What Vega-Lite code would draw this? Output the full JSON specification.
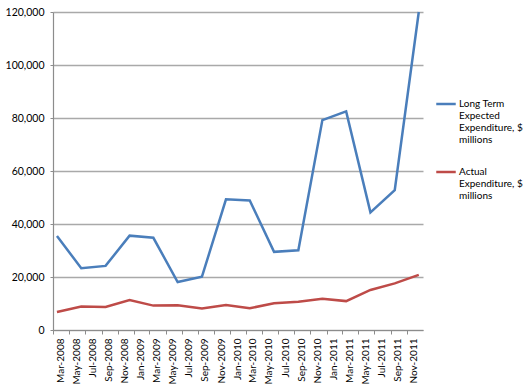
{
  "$schema": "https://vega.github.io/schema/vega-lite/v6.json",
  "width": 370,
  "height": 318,
  "autosize": {"type": "none"},
  "padding": {"left": 53, "top": 12, "right": 103, "bottom": 61},
  "background": "white",
  "config": {"view": {"stroke": null}, "font": "Lato"},
  "data": {
    "values": [
      {"date": "2008-03-16", "series": "Long Term Expected Expenditure, $ millions", "value": 35500},
      {"date": "2008-06-16", "series": "Long Term Expected Expenditure, $ millions", "value": 23300},
      {"date": "2008-09-16", "series": "Long Term Expected Expenditure, $ millions", "value": 24200},
      {"date": "2008-12-16", "series": "Long Term Expected Expenditure, $ millions", "value": 35600},
      {"date": "2009-03-16", "series": "Long Term Expected Expenditure, $ millions", "value": 34800},
      {"date": "2009-06-16", "series": "Long Term Expected Expenditure, $ millions", "value": 18100},
      {"date": "2009-09-16", "series": "Long Term Expected Expenditure, $ millions", "value": 20100},
      {"date": "2009-12-16", "series": "Long Term Expected Expenditure, $ millions", "value": 49300},
      {"date": "2010-03-16", "series": "Long Term Expected Expenditure, $ millions", "value": 48900},
      {"date": "2010-06-16", "series": "Long Term Expected Expenditure, $ millions", "value": 29500},
      {"date": "2010-09-16", "series": "Long Term Expected Expenditure, $ millions", "value": 30100},
      {"date": "2010-12-16", "series": "Long Term Expected Expenditure, $ millions", "value": 79200},
      {"date": "2011-03-16", "series": "Long Term Expected Expenditure, $ millions", "value": 82500},
      {"date": "2011-06-16", "series": "Long Term Expected Expenditure, $ millions", "value": 44400},
      {"date": "2011-09-16", "series": "Long Term Expected Expenditure, $ millions", "value": 52800},
      {"date": "2011-12-16", "series": "Long Term Expected Expenditure, $ millions", "value": 120000},
      {"date": "2008-03-16", "series": "Actual Expenditure, $ millions", "value": 6800},
      {"date": "2008-06-16", "series": "Actual Expenditure, $ millions", "value": 8900},
      {"date": "2008-09-16", "series": "Actual Expenditure, $ millions", "value": 8700},
      {"date": "2008-12-16", "series": "Actual Expenditure, $ millions", "value": 11300},
      {"date": "2009-03-16", "series": "Actual Expenditure, $ millions", "value": 9200},
      {"date": "2009-06-16", "series": "Actual Expenditure, $ millions", "value": 9300},
      {"date": "2009-09-16", "series": "Actual Expenditure, $ millions", "value": 8100},
      {"date": "2009-12-16", "series": "Actual Expenditure, $ millions", "value": 9400},
      {"date": "2010-03-16", "series": "Actual Expenditure, $ millions", "value": 8200},
      {"date": "2010-06-16", "series": "Actual Expenditure, $ millions", "value": 10100},
      {"date": "2010-09-16", "series": "Actual Expenditure, $ millions", "value": 10700},
      {"date": "2010-12-16", "series": "Actual Expenditure, $ millions", "value": 11800},
      {"date": "2011-03-16", "series": "Actual Expenditure, $ millions", "value": 10900},
      {"date": "2011-06-16", "series": "Actual Expenditure, $ millions", "value": 15100},
      {"date": "2011-09-16", "series": "Actual Expenditure, $ millions", "value": 17600},
      {"date": "2011-12-16", "series": "Actual Expenditure, $ millions", "value": 20800}
    ]
  },
  "mark": {"type": "line", "strokeWidth": 2.5},
  "encoding": {
    "x": {
      "field": "date",
      "type": "temporal",
      "title": null,
      "scale": {
        "type": "utc",
        "domain": [
          {"year": 2008, "month": 3, "date": 1, "utc": true},
          {"year": 2012, "month": 1, "date": 1, "utc": true}
        ]
      },
      "axis": {
        "values": [
          {"year": 2008, "month": 3, "date": 1, "utc": true},
          {"year": 2008, "month": 5, "date": 1, "utc": true},
          {"year": 2008, "month": 7, "date": 1, "utc": true},
          {"year": 2008, "month": 9, "date": 1, "utc": true},
          {"year": 2008, "month": 11, "date": 1, "utc": true},
          {"year": 2009, "month": 1, "date": 1, "utc": true},
          {"year": 2009, "month": 3, "date": 1, "utc": true},
          {"year": 2009, "month": 5, "date": 1, "utc": true},
          {"year": 2009, "month": 7, "date": 1, "utc": true},
          {"year": 2009, "month": 9, "date": 1, "utc": true},
          {"year": 2009, "month": 11, "date": 1, "utc": true},
          {"year": 2010, "month": 1, "date": 1, "utc": true},
          {"year": 2010, "month": 3, "date": 1, "utc": true},
          {"year": 2010, "month": 5, "date": 1, "utc": true},
          {"year": 2010, "month": 7, "date": 1, "utc": true},
          {"year": 2010, "month": 9, "date": 1, "utc": true},
          {"year": 2010, "month": 11, "date": 1, "utc": true},
          {"year": 2011, "month": 1, "date": 1, "utc": true},
          {"year": 2011, "month": 3, "date": 1, "utc": true},
          {"year": 2011, "month": 5, "date": 1, "utc": true},
          {"year": 2011, "month": 7, "date": 1, "utc": true},
          {"year": 2011, "month": 9, "date": 1, "utc": true},
          {"year": 2011, "month": 11, "date": 1, "utc": true}
        ],
        "labelExpr": "utcFormat(datum.value, '%b-%Y')",
        "labelAngle": -90,
        "labelOffset": 7,
        "labelPadding": 4,
        "labelFontSize": 10,
        "labelColor": "#000000",
        "labelFlush": false,
        "labelOverlap": false,
        "tickSize": 4,
        "tickColor": "#8c8c8c",
        "domainColor": "#8c8c8c",
        "domainWidth": 1.2,
        "grid": false
      }
    },
    "y": {
      "field": "value",
      "type": "quantitative",
      "title": null,
      "scale": {"domain": [0, 120000], "nice": false},
      "axis": {
        "values": [0, 20000, 40000, 60000, 80000, 100000, 120000],
        "format": ",d",
        "labelFontSize": 10.5,
        "labelColor": "#000000",
        "labelPadding": 6,
        "tickSize": 3,
        "tickColor": "#8c8c8c",
        "domainColor": "#8c8c8c",
        "domainWidth": 1.2,
        "grid": true,
        "gridColor": "#a9a9a9",
        "gridWidth": 1.4
      }
    },
    "color": {
      "field": "series",
      "type": "nominal",
      "scale": {
        "domain": ["Long Term Expected Expenditure, $ millions", "Actual Expenditure, $ millions"],
        "range": ["#4a7ebb", "#be4b48"]
      },
      "legend": {
        "title": null,
        "orient": "none",
        "legendX": 382,
        "legendY": 81,
        "symbolType": "stroke",
        "symbolSize": 380,
        "symbolStrokeWidth": 2.5,
        "labelFontSize": 10,
        "labelColor": "#000000",
        "labelOffset": 2,
        "labelLimit": 0,
        "rowPadding": 16,
        "labelExpr": "datum.label == 'Actual Expenditure, $ millions' ? ['Actual', 'Expenditure, $', 'millions'] : ['Long Term', 'Expected', 'Expenditure, $', 'millions']"
      }
    }
  }
}
